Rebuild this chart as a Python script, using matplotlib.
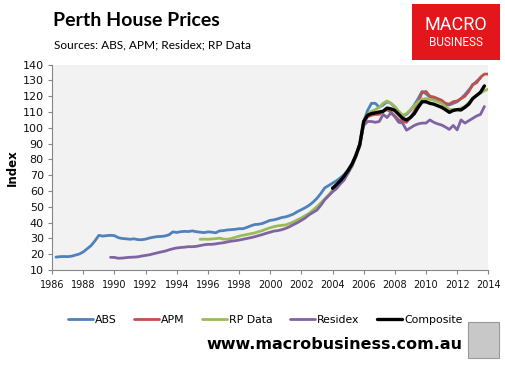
import numpy as np
import matplotlib
matplotlib.use("Agg")
import matplotlib.pyplot as plt
from matplotlib.patches import Rectangle

# quarterly index values
abs_start = 1986.25
abs_vals = [18.2, 18.5, 18.6,
            18.5, 18.8, 19.5, 20.2,      # 1987
            21.5, 23.5, 25.5, 28.5,      # 1988
            32.0, 31.5, 31.8, 32.0,      # 1989
            31.8, 30.5, 30.0, 29.8,      # 1990
            29.5, 29.8, 29.3, 29.2,      # 1991
            29.6, 30.3, 30.8, 31.2,      # 1992
            31.3, 31.6, 32.3, 34.2,      # 1993
            33.8, 34.3, 34.5, 34.4,      # 1994
            34.8, 34.3, 34.0, 33.7,      # 1995
            34.2, 34.0, 33.6, 34.8,      # 1996
            35.0, 35.4, 35.6, 35.8,      # 1997
            36.2, 36.2, 37.0, 38.0,      # 1998
            38.8, 39.0, 39.5, 40.5,      # 1999
            41.5, 41.8, 42.5, 43.3,      # 2000
            43.7, 44.5, 45.5, 47.0,      # 2001
            48.2, 49.5, 51.0, 53.0,      # 2002
            55.4, 58.5, 62.0, 63.5,      # 2003
            65.0, 66.5, 68.3, 70.5,      # 2004
            73.5, 77.5, 83.0, 90.0,      # 2005
            104.0, 111.0, 115.5, 115.5,  # 2006
            113.0, 114.5, 116.5, 115.5,  # 2007
            113.0, 110.0, 107.5, 108.5,  # 2008
            111.0, 114.5, 118.5, 123.0,  # 2009
            121.5, 119.5, 118.5, 117.5,  # 2010
            116.0, 114.5, 114.5, 115.5,  # 2011
            116.5, 118.5, 121.0, 124.0,  # 2012
            127.0, 129.5, 131.5]         # 2013

apm_start = 2005.5
apm_vals = [83.0, 88.0,
            103.0, 107.0, 108.0, 108.5,  # 2006
            108.5, 110.5, 111.5, 110.0,  # 2007
            107.5, 105.0, 104.0, 103.5,  # 2008
            106.5, 110.5, 116.0, 122.5,  # 2009
            123.0, 120.0, 119.5, 118.5,  # 2010
            117.5, 115.5, 115.0, 116.5,  # 2011
            117.0, 118.5, 120.0, 123.0,  # 2012
            127.5, 128.5, 132.0, 134.0,  # 2013
            134.0]

rp_start = 1995.5
rp_vals = [29.5, 29.6,
           29.5, 29.7, 29.9, 30.2,       # 1996
           29.6, 29.5, 30.0, 30.7,       # 1997
           31.5, 32.0, 32.5, 33.0,       # 1998
           33.5, 34.3, 35.0, 36.0,       # 1999
           36.8, 37.5, 38.0, 38.3,       # 2000
           38.6, 39.5, 40.5, 41.8,       # 2001
           43.0, 44.5, 45.9, 48.0,       # 2002
           50.1, 52.5, 55.0, 57.5,       # 2003
           60.5, 63.0, 66.0, 68.5,       # 2004
           71.5, 75.5, 81.5, 89.0,       # 2005
           104.0, 108.5, 110.5, 111.5,   # 2006
           113.0, 115.5, 117.0, 115.5,   # 2007
           113.5, 110.5, 108.0, 109.0,   # 2008
           111.5, 114.0, 116.5, 118.0,   # 2009
           118.5, 118.0, 117.5, 116.5,   # 2010
           115.5, 113.5, 111.5, 111.5,   # 2011
           111.5, 112.5, 113.5, 116.0,   # 2012
           118.5, 120.5, 122.0, 123.5,   # 2013
           124.5]

residex_start = 1989.75
residex_vals = [18.1,
                18.0, 17.5, 17.6, 17.9,      # 1990
                18.1, 18.2, 18.4, 18.9,      # 1991
                19.3, 19.7, 20.3, 20.9,      # 1992
                21.5, 22.0, 22.8, 23.5,      # 1993
                24.0, 24.3, 24.5, 24.8,      # 1994
                24.8, 25.0, 25.5, 26.0,      # 1995
                26.3, 26.3, 26.6, 27.0,      # 1996
                27.3, 27.8, 28.3, 28.6,      # 1997
                29.0, 29.5, 30.0, 30.5,      # 1998
                31.1, 31.8, 32.5, 33.3,      # 1999
                34.0, 34.7, 35.0, 35.6,      # 2000
                36.4, 37.5, 38.8, 40.0,      # 2001
                41.5, 43.0, 45.0, 46.5,      # 2002
                48.0, 51.0, 54.5, 57.0,      # 2003
                59.5, 61.5, 64.5, 67.0,      # 2004
                71.5, 76.0, 82.0, 89.0,      # 2005
                101.5, 104.0, 104.0, 103.5,  # 2006
                104.0, 108.5, 106.5, 109.5,  # 2007
                107.0, 103.5, 103.0, 98.5,   # 2008
                100.0, 101.5, 102.5, 103.0,  # 2009
                103.0, 105.0, 103.5, 102.5,  # 2010
                101.8, 100.5, 99.0, 101.5,   # 2011
                98.7, 105.0, 103.0, 104.5,   # 2012
                106.0, 107.5, 108.5, 113.5]  # 2013

comp_start = 2004.0
comp_vals = [61.8, 64.0, 66.5, 69.5,         # 2004
             73.0, 77.0, 82.5, 89.5,         # 2005
             104.0, 108.0, 109.0, 109.5,     # 2006
             110.0, 110.5, 112.5, 112.0,     # 2007
             111.0, 108.5, 106.0, 105.0,     # 2008
             106.5, 109.0, 113.0, 116.5,     # 2009
             116.5, 115.5, 115.0, 114.0,     # 2010
             113.0, 111.5, 109.8, 111.0,     # 2011
             111.5, 111.3, 113.0, 115.0,     # 2012
             118.5, 120.5, 122.5, 126.5]     # 2013

def quarters(start, vals):
    return start + 0.25 * np.arange(len(vals))

series = [
    ("ABS", abs_start, abs_vals, "#4F81BD", 2.0),
    ("APM", apm_start, apm_vals, "#C0504D", 2.0),
    ("RP Data", rp_start, rp_vals, "#9BBB59", 2.0),
    ("Residex", residex_start, residex_vals, "#8064A2", 2.0),
    ("Composite", comp_start, comp_vals, "#000000", 2.4),
]

fig = plt.figure(figsize=(5.06, 3.65), dpi=100)
ax = fig.add_axes([0.103, 0.26, 0.862, 0.563])
ax.set_facecolor("#F2F2F2")

for name, start, vals, col, lw in series:
    ax.plot(quarters(start, vals), vals, color=col, lw=lw, label=name,
            solid_capstyle="round", solid_joinstyle="round")

ax.set_xlim(1986, 2014)
ax.set_ylim(10, 140)
ax.set_xticks(range(1986, 2015, 2))
ax.set_yticks(range(10, 141, 10))
for s in ["top", "right"]:
    ax.spines[s].set_visible(False)
for s in ["left", "bottom"]:
    ax.spines[s].set_color("#868686")
ax.tick_params(axis="both", colors="#868686", labelcolor="#111111",
               length=3, direction="out")
ax.tick_params(axis="x", pad=4, labelsize=7)
ax.tick_params(axis="y", pad=3, labelsize=8)
ax.set_ylabel("Index", fontsize=8.5, fontweight="bold", labelpad=3)

fig.text(0.105, 0.943, "Perth House Prices", fontsize=14, fontweight="bold",
         family="Lato", va="center")
fig.text(0.107, 0.877, "Sources: ABS, APM; Residex; RP Data", fontsize=8.6,
         family="Lato", va="center")

fig.legend(loc="center", bbox_to_anchor=(0.524, 0.123), ncol=5, frameon=False,
           fontsize=7.8, handlelength=2.3, handletextpad=0.2, columnspacing=1.6)

fig.text(0.913, 0.057, "www.macrobusiness.com.au", fontsize=11.5, fontweight="bold",
         ha="right", va="center")

# logo box
fig.patches.append(Rectangle((412 / 506, 1 - 60 / 365), 88 / 506, 56 / 365,
                             transform=fig.transFigure, facecolor="#E3161B",
                             edgecolor="none"))
fig.text(456 / 506, 1 - 25 / 365, "MACRO", color="white", fontsize=13,
         family="Roboto", ha="center", va="center")
fig.text(456 / 506, 1 - 43 / 365, "BUSINESS", color="white", fontsize=8.5,
         family="Roboto", ha="center", va="center")

# wolf picture placeholder
fig.patches.append(Rectangle((468 / 506, 1 - 358 / 365), 31 / 506, 36 / 365,
                             transform=fig.transFigure, facecolor="#C8C8C8",
                             edgecolor="#999999", lw=0.8))

fig.savefig("out.png", dpi=100)
